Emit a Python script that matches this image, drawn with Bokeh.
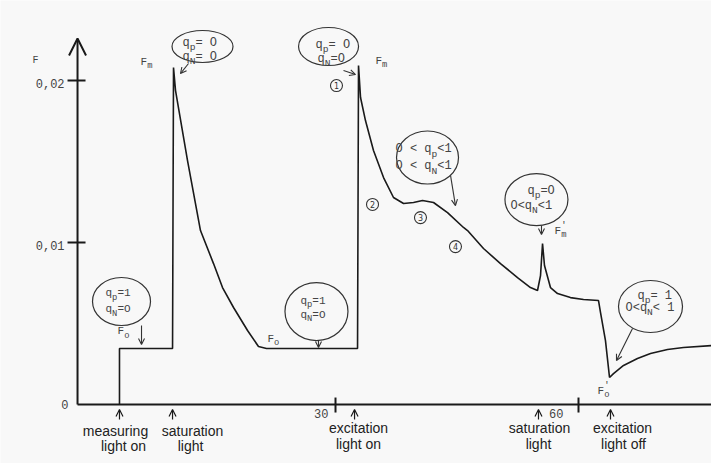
from bokeh.plotting import figure
from bokeh.models import Range1d, Arrow, OpenHead
from bokeh.core.properties import value
from bokeh.embed import file_html
from bokeh.resources import INLINE

# ---------------- data ----------------
time_s = [3.33, 3.33, 9.88, 10.0, 10.25, 11.73, 13.33, 14.94, 16.05, 17.41, 19.14, 20.49, 21.48,
          32.72, 32.84, 33.09, 33.70, 34.69, 35.93, 37.16, 38.40, 39.63, 40.74, 42.10, 43.83,
          45.80, 46.30, 48.27, 50.37, 52.47, 54.07, 54.94, 55.31, 55.56, 55.80, 56.54, 57.41,
          59.01, 60.62, 62.47, 62.72, 63.33, 63.83, 64.32, 65.56, 67.28, 68.89, 70.99, 72.96, 76.42]
fluor = [0, 0.00346, 0.00346, 0.02080, 0.01938, 0.01506, 0.01074, 0.00870, 0.00722, 0.00599,
         0.00457, 0.00358, 0.00346, 0.00346, 0.02093, 0.01895, 0.01753, 0.01568, 0.01401, 0.01278,
         0.01241, 0.01247, 0.01259, 0.01247, 0.01185, 0.01093, 0.01074, 0.00963, 0.00870, 0.00784,
         0.00722, 0.00704, 0.00796, 0.00994, 0.00858, 0.00722, 0.00685, 0.00660, 0.00648, 0.00642,
         0.00568, 0.00395, 0.00167, 0.00191, 0.00241, 0.00284, 0.00315, 0.00340, 0.00352, 0.00364]

y_ticks = [0.01, 0.02]
y_tick_labels = ["0,01", "0,02"]
x_ticks = [30, 60]
x_tick_labels = ["30", "60"]

event_t = [3.33, 9.88, 32.35, 55.06, 63.95]
event_line1 = ["measuring", "saturation", "excitation", "saturation", "excitation"]
event_line2 = ["light  on", "light", "light on", "light", "light off"]

# ---------------- figure ----------------
W, H = 711, 463
X0, X1 = -11.36, 76.42
Y0, Y1 = -0.00364, 0.02494
PX = (X1 - X0) / W
PY = (Y1 - Y0) / H
T_AXIS = -1.85      # where the hand-drawn F axis stands
F_TOP = 0.02259     # tip of the F axis arrow

MONO = "Liberation Mono"
SANS = "Liberation Sans"
INK = "#1a1a1a"
TXT = "#444444"

p = figure(width=W, height=H, x_range=Range1d(X0, X1), y_range=Range1d(Y0, Y1),
           x_axis_type=None, y_axis_type=None, toolbar_location=None,
           output_backend="svg", min_border=0, outline_line_color=None,
           background_fill_color="#f8f8f8", border_fill_color="#f8f8f8")


def dy(px):
    return -px * PY


def rich(x, y, pieces, dx=0.0, dyp=0.0, size=12, color=TXT, font=MONO):
    cx = dx
    for piece in pieces:
        txt, kind = piece[0], piece[1]
        adv = piece[2] if len(piece) > 2 else True
        s = size * (0.8 if kind else 1.0)
        oy = dyp + {"": 0.0, "sub": 0.38 * size, "sup": -0.45 * size}[kind]
        p.text(x=[x], y=[y + dy(oy)], text=[txt], x_offset=cx,
               text_font=value(font), text_font_size=f"{s:.1f}px", text_color=color,
               text_baseline="middle", text_align="left")
        if adv:
            cx += len(txt) * 0.6 * s


# axes
p.line([T_AXIS, X1 + 2], [0, 0], line_color=INK, line_width=2)
p.add_layout(Arrow(x_start=T_AXIS, y_start=0, x_end=T_AXIS, y_end=F_TOP,
                   line_color=INK, line_width=2,
                   end=OpenHead(size=17, line_color=INK, line_width=2)))
p.segment(x0=[T_AXIS - 10 * PX] * len(y_ticks), x1=[T_AXIS + 8 * PX] * len(y_ticks),
          y0=y_ticks, y1=y_ticks, line_color=INK, line_width=2)
p.text(x=[T_AXIS] * len(y_ticks), y=[v + dy(3) for v in y_ticks], text=y_tick_labels,
       x_offset=-13, text_font=value(MONO), text_font_size="12px", text_color=TXT,
       text_align="right", text_baseline="middle")
p.text(x=[T_AXIS], y=[0], text=["0"], x_offset=-9, text_font=value(MONO),
       text_font_size="12px", text_color=TXT, text_align="right", text_baseline="middle")
p.text(x=[T_AXIS], y=[0.02123], text=["F"], x_offset=-42,
       text_font=value(MONO), text_font_size="10px", text_color=TXT,
       text_align="center", text_baseline="middle")

p.segment(x0=x_ticks, x1=x_ticks, y0=[dy(-7)] * 2, y1=[dy(8)] * 2, line_color=INK, line_width=2)
for t, lab, off in zip(x_ticks, x_tick_labels, [-7, -15]):
    p.text(x=[t], y=[dy(9)], text=[lab], x_offset=off, text_font=value(MONO),
           text_font_size="12px", text_color=TXT, text_align="right", text_baseline="middle")

# curve
p.line(time_s, fluor, line_color=INK, line_width=1.6)

# event arrows and labels
for t in event_t:
    p.add_layout(Arrow(x_start=t, y_start=dy(15), x_end=t, y_end=dy(5),
                       line_color=INK, line_width=1.2,
                       end=OpenHead(size=7, line_color=INK, line_width=1.2)))
lab_off1 = [-4, 20, 4, 1, 12]
lab_off2 = [6, 18, 4, 0, 13]
lab_y1 = [26, 26, 23, 23, 23]
lab_y2 = [41, 41, 39, 39, 39]
for t, l1, l2, o1, o2, y1, y2 in zip(event_t, event_line1, event_line2, lab_off1, lab_off2, lab_y1, lab_y2):
    p.text(x=[t], y=[dy(y1)], text=[l1], x_offset=o1, text_font=value(SANS),
           text_font_size="14px", text_color="#222222", text_align="center", text_baseline="middle")
    p.text(x=[t], y=[dy(y2)], text=[l2], x_offset=o2, text_font=value(SANS),
           text_font_size="14px", text_color="#222222", text_align="center", text_baseline="middle")

# bubbles: centre (t, F), width, height (px), lines (dx, dy, pieces), font size
bubbles = [
    ((13.58, 0.02210), 61, 32, [(-20, -4, [("q", ""), ("p", "sub"), ("=  O", "")]),
                                (-20, 10, [("q", ""), ("N", "sub"), ("=  O", "")])], 12),
    ((29.14, 0.02210), 60, 38, [(-13, -2, [("q", ""), ("p", "sub"), ("=  O", "")]),
                                (-11, 12, [("q", ""), ("N", "sub"), ("=O", "")])], 12),
    ((41.36, 0.01525), 62, 53, [(-32, -8, [("O < q", ""), ("p", "sub"), ("<1", "")]),
                                (-32, 9, [("O < q", ""), ("N", "sub"), ("<1", "")])], 12),
    ((54.81, 0.01265), 63, 52, [(-9, -9, [("q", ""), ("p", "sub"), ("=O", "")]),
                                (-26, 6, [("O<q", ""), ("N", "sub"), ("<1", "")])], 12),
    ((68.89, 0.00605), 64, 52, [(-13, -11, [("q", ""), ("p", "sub"), (" = 1", "")]),
                                (-25, 1, [("O<q", ""), ("N", "sub"), (" < 1", "")])], 12),
    ((3.58, 0.00636), 58, 48, [(-16, -8, [("q", ""), ("p", "sub"), ("=1", "")]),
                               (-16, 8, [("q", ""), ("N", "sub"), ("=O", "")])], 11),
    ((27.65, 0.00574), 63, 58, [(-16, -11, [("q", ""), ("p", "sub"), ("=1", "")]),
                                (-16, 3, [("q", ""), ("N", "sub"), ("=O", "")])], 11),
]
for (cx, cy), w, h, lines, fs in bubbles:
    p.ellipse(x=[cx], y=[cy], width=w * PX, height=h * PY, fill_color=None,
              line_color="#333333", line_width=1.2)
    for ddx, ddy, pieces in lines:
        rich(cx, cy, pieces, dx=ddx, dyp=ddy, size=fs)

# pointer arrows from bubbles
pointers = [((11.85, 0.02105), (10.86, 0.02043)),
            ((30.99, 0.02062), (32.47, 0.02037)),
            ((44.20, 0.01414), (44.81, 0.01228)),
            ((55.43, 0.01105), (55.43, 0.01049)),
            ((66.67, 0.00469), (64.69, 0.00272)),
            ((6.05, 0.00488), (6.05, 0.00370)),
            ((27.90, 0.00395), (27.90, 0.00352))]
for (xs, ys), (xe, ye) in pointers:
    p.add_layout(Arrow(x_start=xs, y_start=ys, x_end=xe, y_end=ye, line_color="#333333",
                       line_width=1.1, end=OpenHead(size=6, line_color="#333333", line_width=1.1)))

# F labels
rich(5.93, 0.02117, [("F", ""), ("m", "sub")], size=11)
rich(34.94, 0.02123, [("F", ""), ("m", "sub")], size=11)
rich(57.04, 0.01074, [("F", ""), ("'", "sup", False), ("m", "sub")], size=11)
rich(3.09, 0.00451, [("F", ""), ("o", "sub")], size=11)
rich(21.60, 0.00407, [("F", ""), ("o", "sub")], size=11)
rich(62.35, 0.00086, [("F", ""), ("'", "sup", False), ("o", "sub")], size=11)

# circled step numbers
steps_t = [30.12, 34.57, 40.49, 44.81]
steps_f = [0.01969, 0.01235, 0.01154, 0.00975]
steps_lab = ["1", "2", "3", "4"]
p.scatter(x=steps_t, y=steps_f, marker="circle", size=12, fill_color=None,
          line_color="#333333", line_width=1.1)
p.text(x=steps_t, y=steps_f, text=steps_lab, text_font=value("DejaVu Sans"),
       text_font_size="8px", text_color="#333333", text_align="center", text_baseline="middle")

open("out.html", "w").write(file_html(p, INLINE))
